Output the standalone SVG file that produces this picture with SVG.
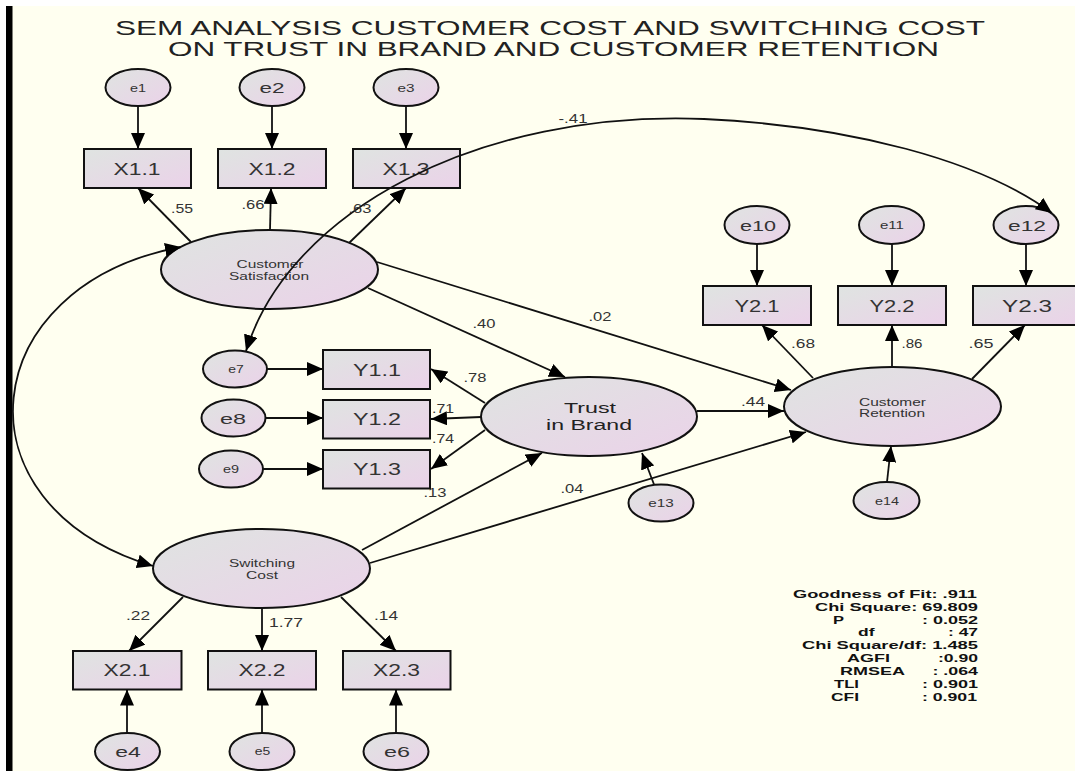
<svg xmlns="http://www.w3.org/2000/svg" width="1075" height="771" viewBox="0 0 1075 771">
<defs>
<linearGradient id="g" x1="0" y1="0" x2="1" y2="1">
<stop offset="0" stop-color="#DFE4E1"/>
<stop offset="1" stop-color="#EBD2E9"/>
</linearGradient>
<marker id="ah" viewBox="0 0 16 14" refX="16" refY="7" markerWidth="16" markerHeight="14" markerUnits="userSpaceOnUse" orient="auto-start-reverse">
<path d="M0,0 L16,7 L0,14 z" fill="#000"/>
</marker>
<style>
.n{fill:url(#g);stroke:#111;stroke-width:2}
.c{fill:none;stroke:#111;stroke-width:1.8;marker-end:url(#ah)}
.cc{fill:none;stroke:#111;stroke-width:1.8;marker-end:url(#ah);marker-start:url(#ah)}
text{font-family:"Liberation Sans",Arial,sans-serif;fill:#333;text-anchor:middle}
.t{font-size:20px;fill:#222;text-anchor:start}
.es{font-size:10px}
.el{font-size:15px}
.em{font-size:11px}
.bx{font-size:16px}
.lv{font-size:11px}
.tb{font-size:15.5px;fill:#222}
.w{font-size:12.5px}
.s{font-size:11px;font-weight:bold;fill:#111;text-anchor:start}
</style>
</defs>
<rect x="0" y="0" width="1075" height="771" fill="#FFFFF0"/>
<rect x="0" y="0" width="1075" height="6" fill="#FFFFFF"/>
<rect x="0" y="0" width="6" height="771" fill="#FFFFFF"/>
<rect x="6" y="6" width="6.5" height="765" fill="#000"/>

<g id="title">
<text class="t" x="115" y="34.5" textLength="870" lengthAdjust="spacingAndGlyphs">SEM ANALYSIS CUSTOMER COST AND SWITCHING COST</text>
<text class="t" x="168" y="55.5" textLength="771" lengthAdjust="spacingAndGlyphs">ON TRUST IN BRAND AND CUSTOMER RETENTION</text>
</g>

<g id="e1"><ellipse class="n" cx="138" cy="87.5" rx="32.5" ry="18.5"/><text class="es" x="138" y="91.5" textLength="16" lengthAdjust="spacingAndGlyphs">e1</text></g>
<g id="e2"><ellipse class="n" cx="272" cy="87.5" rx="32.5" ry="18.5"/><text class="el" x="272" y="93" textLength="25" lengthAdjust="spacingAndGlyphs">e2</text></g>
<g id="e3"><ellipse class="n" cx="406" cy="87.5" rx="32.5" ry="18.5"/><text class="es" x="406" y="91.5" textLength="17" lengthAdjust="spacingAndGlyphs">e3</text></g>

<g id="X1.1"><rect class="n" x="84" y="149" width="107" height="39"/><text class="bx" x="137" y="174.5" textLength="47" lengthAdjust="spacingAndGlyphs">X1.1</text></g>
<g id="X1.2"><rect class="n" x="218" y="149" width="108" height="39"/><text class="bx" x="272" y="174.5" textLength="47" lengthAdjust="spacingAndGlyphs">X1.2</text></g>
<g id="X1.3"><rect class="n" x="353" y="149" width="107" height="39"/><text class="bx" x="406" y="174.5" textLength="47" lengthAdjust="spacingAndGlyphs">X1.3</text></g>

<g id="customer-satisfaction"><ellipse class="n" cx="269.5" cy="269.5" rx="108.5" ry="39.5"/>
<text class="lv" x="270" y="268" textLength="67" lengthAdjust="spacingAndGlyphs">Customer</text>
<text class="lv" x="269" y="279.5" textLength="80" lengthAdjust="spacingAndGlyphs">Satisfaction</text></g>

<g id="e7"><ellipse class="n" cx="235" cy="369" rx="32" ry="18.5"/><text class="es" x="236" y="373" textLength="15.5" lengthAdjust="spacingAndGlyphs">e7</text></g>
<g id="e8"><ellipse class="n" cx="233.5" cy="418" rx="32" ry="18.5"/><text class="el" x="233" y="423.5" textLength="26" lengthAdjust="spacingAndGlyphs">e8</text></g>
<g id="e9"><ellipse class="n" cx="231" cy="469" rx="32" ry="18.5"/><text class="es" x="231" y="473" textLength="16" lengthAdjust="spacingAndGlyphs">e9</text></g>

<g id="Y1.1"><rect class="n" x="323" y="350" width="107" height="39"/><text class="bx" x="377" y="375.5" textLength="48" lengthAdjust="spacingAndGlyphs">Y1.1</text></g>
<g id="Y1.2"><rect class="n" x="323" y="400" width="107" height="38.5"/><text class="bx" x="377" y="425" textLength="48" lengthAdjust="spacingAndGlyphs">Y1.2</text></g>
<g id="Y1.3"><rect class="n" x="323" y="450" width="107" height="38.5"/><text class="bx" x="377" y="475" textLength="48" lengthAdjust="spacingAndGlyphs">Y1.3</text></g>

<g id="trust-in-brand"><ellipse class="n" cx="589" cy="416.5" rx="108" ry="39.5"/>
<text class="tb" x="590" y="413" textLength="52" lengthAdjust="spacingAndGlyphs">Trust</text>
<text class="tb" x="589" y="430" textLength="86" lengthAdjust="spacingAndGlyphs">in Brand</text></g>

<g id="e13"><ellipse class="n" cx="661" cy="503" rx="32.5" ry="18.5"/><text class="em" x="661" y="507" textLength="25.5" lengthAdjust="spacingAndGlyphs">e13</text></g>

<g id="e10"><ellipse class="n" cx="757" cy="225" rx="32.5" ry="19"/><text class="el" x="758" y="230.5" textLength="36" lengthAdjust="spacingAndGlyphs">e10</text></g>
<g id="e11"><ellipse class="n" cx="891.5" cy="225" rx="32.5" ry="19"/><text class="es" x="892" y="228.5" textLength="24" lengthAdjust="spacingAndGlyphs">e11</text></g>
<g id="e12"><ellipse class="n" cx="1026" cy="225" rx="32.5" ry="19"/><text class="el" x="1027" y="230.5" textLength="38" lengthAdjust="spacingAndGlyphs">e12</text></g>

<g id="Y2.1"><rect class="n" x="703" y="286" width="108" height="39"/><text class="bx" x="757" y="311.5" textLength="45" lengthAdjust="spacingAndGlyphs">Y2.1</text></g>
<g id="Y2.2"><rect class="n" x="838" y="286" width="108" height="39"/><text class="bx" x="892" y="311.5" textLength="45" lengthAdjust="spacingAndGlyphs">Y2.2</text></g>
<g id="Y2.3"><rect class="n" x="973" y="286" width="108" height="39"/><text class="bx" x="1027" y="311.5" textLength="50" lengthAdjust="spacingAndGlyphs">Y2.3</text></g>

<g id="customer-retention"><ellipse class="n" cx="892.5" cy="406.5" rx="108.5" ry="39.5"/>
<text class="lv" x="892.5" y="405.5" textLength="67" lengthAdjust="spacingAndGlyphs">Customer</text>
<text class="lv" x="892" y="416.5" textLength="66" lengthAdjust="spacingAndGlyphs">Retention</text></g>

<g id="e14"><ellipse class="n" cx="886.5" cy="500.5" rx="33" ry="18.5"/><text class="em" x="887" y="505" textLength="24" lengthAdjust="spacingAndGlyphs">e14</text></g>

<g id="switching-cost"><ellipse class="n" cx="261.5" cy="568.5" rx="108.5" ry="39.5"/>
<text class="lv" x="262" y="567" textLength="66" lengthAdjust="spacingAndGlyphs">Switching</text>
<text class="lv" x="262" y="578.5" textLength="32" lengthAdjust="spacingAndGlyphs">Cost</text></g>

<g id="X2.1"><rect class="n" x="73" y="651" width="108.5" height="38.5"/><text class="bx" x="127" y="676" textLength="47" lengthAdjust="spacingAndGlyphs">X2.1</text></g>
<g id="X2.2"><rect class="n" x="208" y="651" width="108" height="38.5"/><text class="bx" x="262" y="676" textLength="47" lengthAdjust="spacingAndGlyphs">X2.2</text></g>
<g id="X2.3"><rect class="n" x="343" y="651" width="107.5" height="38.5"/><text class="bx" x="396.5" y="676" textLength="47" lengthAdjust="spacingAndGlyphs">X2.3</text></g>

<g id="e4"><ellipse class="n" cx="127.5" cy="751.5" rx="32.5" ry="18.5"/><text class="el" x="128" y="757" textLength="25.5" lengthAdjust="spacingAndGlyphs">e4</text></g>
<g id="e5"><ellipse class="n" cx="262" cy="751.5" rx="32.5" ry="18.5"/><text class="es" x="262.5" y="755" textLength="15.5" lengthAdjust="spacingAndGlyphs">e5</text></g>
<g id="e6"><ellipse class="n" cx="396" cy="751.5" rx="32.5" ry="18.5"/><text class="el" x="397" y="757" textLength="26" lengthAdjust="spacingAndGlyphs">e6</text></g>

<g id="connectors">
<path class="c" d="M138,106 L138,149"/>
<path class="c" d="M272,106 L272,149"/>
<path class="c" d="M406,106 L406,149"/>
<path class="c" d="M191,242 L138,188"/>
<path class="c" d="M270,230 L271,188"/>
<path class="c" d="M349,243 L406,188"/>
<path class="c" d="M368,288 L565,377"/>
<path class="c" d="M377,262 L791,390"/>
<path class="c" d="M267,369 L323,369"/>
<path class="c" d="M265.5,418 L323,418"/>
<path class="c" d="M263,469 L323,469"/>
<path class="c" d="M485,403 L431,369"/>
<path class="c" d="M481,417 L431,419"/>
<path class="c" d="M485,430 L431,469"/>
<path class="c" d="M362,550 L542,453"/>
<path class="c" d="M370,563 L806,432"/>
<path class="c" d="M697,411 L784,411"/>
<path class="c" d="M654,484.5 L642,453"/>
<path class="c" d="M887,482 L891,446"/>
<path class="c" d="M757,244 L757,286"/>
<path class="c" d="M892,244 L892,286"/>
<path class="c" d="M1026,244 L1026,286"/>
<path class="c" d="M813,378 L762,325"/>
<path class="c" d="M892,367 L892,325"/>
<path class="c" d="M972,379 L1025,325"/>
<path class="c" d="M183,597 L129,651"/>
<path class="c" d="M262,608 L262,651"/>
<path class="c" d="M341,597 L396,651"/>
<path class="c" d="M127,733 L127,689.5"/>
<path class="c" d="M262,733 L262,689.5"/>
<path class="c" d="M396,733 L396,689.5"/>
<path class="cc" d="M246,351 C290,210 480,110 704,119 C850,126 980,160 1052,213"/>
<path class="cc" d="M181,247 C-25,285 -50,505 153,566"/>
</g>

<g id="weights">
<text class="w" x="182" y="213" textLength="22" lengthAdjust="spacingAndGlyphs">.55</text>
<text class="w" x="253" y="208.5" textLength="23" lengthAdjust="spacingAndGlyphs">.66</text>
<text class="w" x="360" y="212.5" textLength="23" lengthAdjust="spacingAndGlyphs">.63</text>
<text class="w" x="573" y="123" textLength="29" lengthAdjust="spacingAndGlyphs">-.41</text>
<text class="w" x="484" y="328" textLength="23" lengthAdjust="spacingAndGlyphs">.40</text>
<text class="w" x="600" y="321" textLength="23" lengthAdjust="spacingAndGlyphs">.02</text>
<text class="w" x="475" y="382" textLength="23" lengthAdjust="spacingAndGlyphs">.78</text>
<text class="w" x="443" y="413" textLength="22" lengthAdjust="spacingAndGlyphs">.71</text>
<text class="w" x="443" y="443" textLength="22" lengthAdjust="spacingAndGlyphs">.74</text>
<text class="w" x="435" y="497" textLength="23" lengthAdjust="spacingAndGlyphs">.13</text>
<text class="w" x="572" y="493" textLength="23" lengthAdjust="spacingAndGlyphs">.04</text>
<text class="w" x="753" y="406" textLength="24" lengthAdjust="spacingAndGlyphs">.44</text>
<text class="w" x="803" y="348" textLength="24" lengthAdjust="spacingAndGlyphs">.68</text>
<text class="w" x="912" y="348" textLength="21" lengthAdjust="spacingAndGlyphs">.86</text>
<text class="w" x="981" y="348" textLength="25" lengthAdjust="spacingAndGlyphs">.65</text>
<text class="w" x="138" y="620" textLength="24" lengthAdjust="spacingAndGlyphs">.22</text>
<text class="w" x="286" y="627" textLength="34" lengthAdjust="spacingAndGlyphs">1.77</text>
<text class="w" x="386" y="620" textLength="24" lengthAdjust="spacingAndGlyphs">.14</text>
</g>

<g id="fit-stats">
<text class="s" x="793" y="598" textLength="184" lengthAdjust="spacingAndGlyphs">Goodness of Fit: .911</text>
<text class="s" x="815" y="611" textLength="163" lengthAdjust="spacingAndGlyphs">Chi Square: 69.809</text>
<text class="s" x="833" y="623.5" textLength="11" lengthAdjust="spacingAndGlyphs">P</text>
<text class="s" x="922" y="623.5" textLength="56" lengthAdjust="spacingAndGlyphs">: 0.052</text>
<text class="s" x="858" y="636" textLength="16.5" lengthAdjust="spacingAndGlyphs">df</text>
<text class="s" x="948" y="636" textLength="30" lengthAdjust="spacingAndGlyphs">: 47</text>
<text class="s" x="802" y="649" textLength="176" lengthAdjust="spacingAndGlyphs">Chi Square/df: 1.485</text>
<text class="s" x="847" y="662" textLength="43" lengthAdjust="spacingAndGlyphs">AGFI</text>
<text class="s" x="938" y="662" textLength="40" lengthAdjust="spacingAndGlyphs">:0.90</text>
<text class="s" x="840" y="675" textLength="65" lengthAdjust="spacingAndGlyphs">RMSEA</text>
<text class="s" x="932.5" y="675" textLength="45.5" lengthAdjust="spacingAndGlyphs">: .064</text>
<text class="s" x="834" y="688" textLength="25" lengthAdjust="spacingAndGlyphs">TLI</text>
<text class="s" x="922" y="688" textLength="56" lengthAdjust="spacingAndGlyphs">: 0.901</text>
<text class="s" x="831" y="700.5" textLength="28" lengthAdjust="spacingAndGlyphs">CFI</text>
<text class="s" x="922" y="700.5" textLength="55" lengthAdjust="spacingAndGlyphs">: 0.901</text>
</g>
</svg>
